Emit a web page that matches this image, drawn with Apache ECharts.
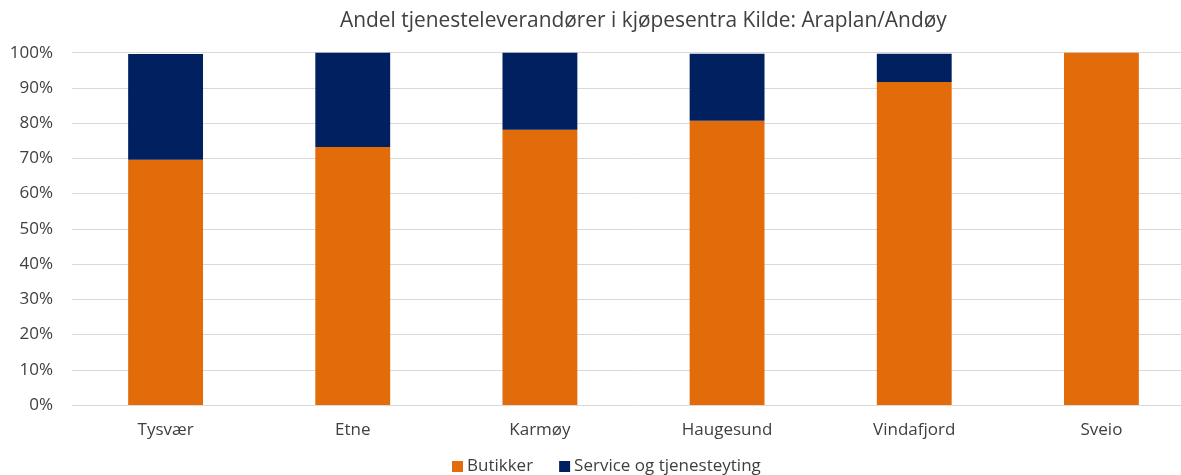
<!DOCTYPE html>
<html>
<head>
<meta charset="utf-8">
<script src="https://cdn.jsdelivr.net/npm/echarts@6/dist/echarts.min.js"></script>
<style>
  html, body { margin: 0; padding: 0; background: #fff; overflow: hidden; }
  #chart { width: 1195px; height: 475px; }
</style>
</head>
<body>
<div id="chart"></div>
<script>
// Share of shops vs. service providers in shopping centres, by municipality (%)
const categories = ['Tysvær', 'Etne', 'Karmøy', 'Haugesund', 'Vindafjord', 'Sveio'];
const butikker = [69.6, 73.2, 78.1, 80.7, 91.7, 100];
const service = [30.0, 26.8, 21.9, 19.0, 8.0, 0];
const yTicks = [0, 10, 20, 30, 40, 50, 60, 70, 80, 90, 100];

const FONT = '"Open Sans", "Liberation Sans", sans-serif';
const TEXT = '#404040';

const chart = echarts.init(document.getElementById('chart'), null, { renderer: 'canvas' });
chart.setOption({
  animation: false,
  textStyle: { fontFamily: FONT },
  title: {
    text: 'Andel tjenesteleverandører i kjøpesentra Kilde: Araplan/Andøy',
    left: 335,
    top: 6,
    textStyle: { fontFamily: FONT, fontSize: 20.9, fontWeight: 'normal', color: TEXT }
  },
  legend: {
    data: ['Butikker', 'Service og tjenesteyting'],
    left: 447,
    top: 453,
    itemWidth: 11,
    itemHeight: 11,
    itemGap: 26,
    icon: 'rect',
    textStyle: { fontFamily: FONT, fontSize: 17, color: TEXT, padding: [0, 0, 0, -1] }
  },
  grid: { left: 72, top: 52.7, right: 0, height: 352.3, containLabel: false },
  xAxis: {
    type: 'category',
    data: categories,
    axisLine: { show: true, lineStyle: { color: '#d9d9d9' } },
    axisTick: { show: false },
    axisLabel: { fontFamily: FONT, fontSize: 17, color: TEXT, margin: 17 }
  },
  yAxis: {
    type: 'value',
    min: yTicks[0],
    max: yTicks[yTicks.length - 1],
    interval: 10,
    axisLine: { show: false },
    axisTick: { show: false },
    splitLine: { lineStyle: { color: '#d9d9d9', width: 1 } },
    axisLabel: { fontFamily: FONT, fontSize: 17, color: TEXT, margin: 19, formatter: v => v + '%' }
  },
  series: [
    {
      name: 'Butikker',
      type: 'bar',
      stack: 'total',
      barWidth: '40%',
      data: butikker,
      itemStyle: { color: '#E36C0A' }
    },
    {
      name: 'Service og tjenesteyting',
      type: 'bar',
      stack: 'total',
      barWidth: '40%',
      data: service,
      itemStyle: { color: '#002060' }
    }
  ]
});
</script>
</body>
</html>
